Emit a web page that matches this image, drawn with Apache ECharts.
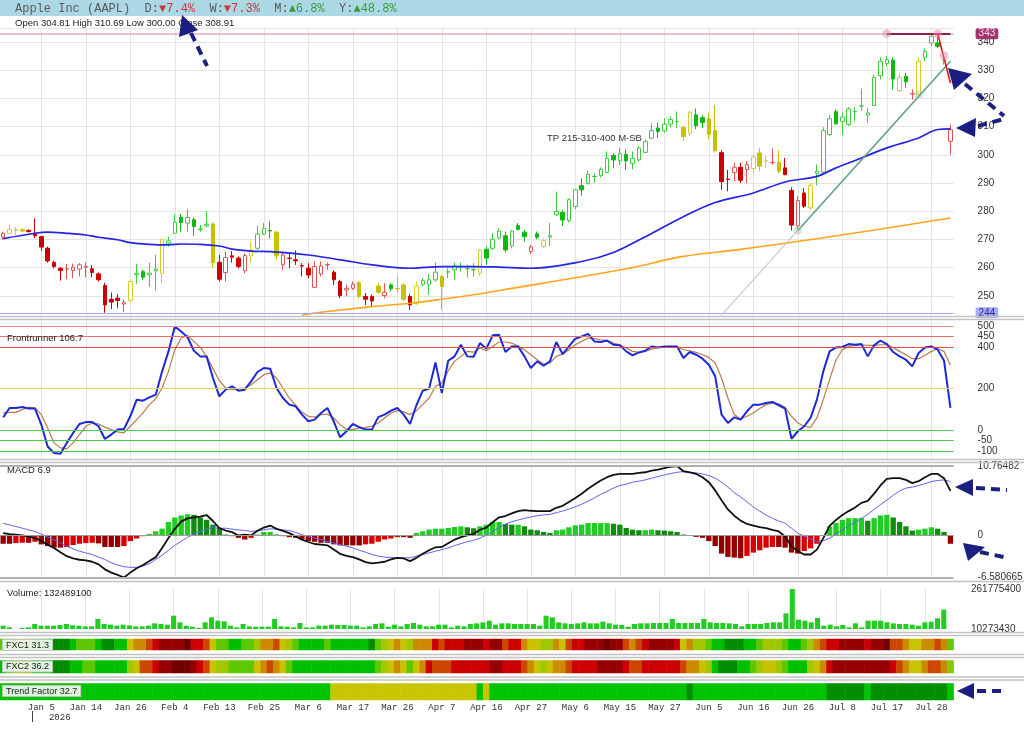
<!DOCTYPE html>
<html><head><meta charset="utf-8">
<script src="https://cdn.jsdelivr.net/npm/echarts@6/dist/echarts.min.js"></script>
<style>html,body{margin:0;padding:0;background:#fff}#c{width:1024px;height:735px}</style>
</head><body><div id="c"></div>
<script>
// ---------------- DATA ----------------
const dates = [
'2025-12-24','2025-12-26','2025-12-29','2025-12-30','2025-12-31','2026-01-02','2026-01-05','2026-01-06','2026-01-07','2026-01-08',
'2026-01-09','2026-01-12','2026-01-13','2026-01-14','2026-01-15','2026-01-16','2026-01-20','2026-01-21','2026-01-22','2026-01-23',
'2026-01-26','2026-01-27','2026-01-28','2026-01-29','2026-01-30','2026-02-02','2026-02-03','2026-02-04','2026-02-05','2026-02-06',
'2026-02-09','2026-02-10','2026-02-11','2026-02-12','2026-02-13','2026-02-17','2026-02-18','2026-02-19','2026-02-20','2026-02-23',
'2026-02-24','2026-02-25','2026-02-26','2026-02-27','2026-03-02','2026-03-03','2026-03-04','2026-03-05','2026-03-06','2026-03-09',
'2026-03-10','2026-03-11','2026-03-12','2026-03-13','2026-03-16','2026-03-17','2026-03-18','2026-03-19','2026-03-20','2026-03-23',
'2026-03-24','2026-03-25','2026-03-26','2026-03-27','2026-03-30','2026-03-31','2026-04-01','2026-04-02','2026-04-06','2026-04-07',
'2026-04-08','2026-04-09','2026-04-10','2026-04-13','2026-04-14','2026-04-15','2026-04-16','2026-04-17','2026-04-20','2026-04-21',
'2026-04-22','2026-04-23','2026-04-24','2026-04-27','2026-04-28','2026-04-29','2026-04-30','2026-05-01','2026-05-04','2026-05-05',
'2026-05-06','2026-05-07','2026-05-08','2026-05-11','2026-05-12','2026-05-13','2026-05-14','2026-05-15','2026-05-18','2026-05-19',
'2026-05-20','2026-05-21','2026-05-22','2026-05-26','2026-05-27','2026-05-28','2026-05-29','2026-06-01','2026-06-02','2026-06-03',
'2026-06-04','2026-06-05','2026-06-08','2026-06-09','2026-06-10','2026-06-11','2026-06-12','2026-06-15','2026-06-16','2026-06-17',
'2026-06-18','2026-06-22','2026-06-23','2026-06-24','2026-06-25','2026-06-26','2026-06-29','2026-06-30','2026-07-01','2026-07-02',
'2026-07-06','2026-07-07','2026-07-08','2026-07-09','2026-07-10','2026-07-13','2026-07-14','2026-07-15','2026-07-16','2026-07-17',
'2026-07-20','2026-07-21','2026-07-22','2026-07-23','2026-07-24','2026-07-27','2026-07-28','2026-07-29','2026-07-30','2026-07-31'];

const tickDates = ['2026-01-05','2026-01-14','2026-01-26','2026-02-04','2026-02-13','2026-02-25','2026-03-06','2026-03-17','2026-03-26',
'2026-04-07','2026-04-16','2026-04-27','2026-05-06','2026-05-15','2026-05-27','2026-06-05','2026-06-16','2026-06-26','2026-07-08','2026-07-17','2026-07-28'];

const open = [
270.8,272.2,273.2,273.4,273.2,272.2,271.0,266.9,261.9,259.8,
259.5,259.0,259.5,260.2,259.6,257.8,253.7,248.8,249.2,247.1,
248.4,257.5,258.6,257.5,258.9,258.0,268.7,272.2,277.9,275.8,
277.0,273.5,274.8,275.5,261.9,258.3,264.2,263.4,258.9,264.2,
266.9,272.0,273.2,272.6,261.0,263.4,262.8,260.7,259.8,253.0,
257.8,261.0,258.4,255.1,252.1,252.7,254.7,249.8,249.8,253.5,
250.1,253.9,252.6,253.9,249.8,247.4,254.1,254.1,255.7,256.9,
258.4,259.2,260.4,259.6,259.2,258.0,266.5,266.9,270.5,271.3,
267.7,274.9,272.6,265.7,272.0,267.5,270.8,278.7,279.6,276.7,
281.7,289.1,289.9,292.3,292.6,293.8,299.8,297.9,300.2,297.0,
298.2,300.9,305.9,309.5,308.5,310.9,311.8,309.7,307.7,314.2,
313.2,312.8,308.6,300.8,291.4,293.8,295.6,294.8,295.2,300.7,
297.8,297.2,297.4,295.4,287.4,274.9,286.5,281.2,293.4,293.9,
307.2,315.3,311.9,310.8,315.3,317.3,314.1,317.5,328.1,332.4,
333.6,322.8,327.9,321.6,321.4,334.6,339.7,339.7,333.5,304.81];
const close = [
272.2,273.6,273.4,273.0,272.8,271.3,267.3,262.4,260.4,259.0,
259.6,260.2,261.0,260.4,258.3,255.7,246.8,247.8,248.4,247.7,
255.1,258.0,256.6,258.1,259.5,269.9,269.5,276.1,276.0,277.8,
274.6,273.7,275.4,261.8,255.9,263.6,263.7,260.4,264.3,266.3,
271.9,274.0,273.0,264.2,264.5,263.3,262.4,260.6,257.4,260.4,
260.6,261.1,255.7,250.1,252.7,254.1,249.8,248.8,248.2,251.3,
251.3,252.5,252.5,248.8,246.8,253.5,255.4,255.7,258.4,253.3,
258.6,260.6,260.5,259.7,259.4,266.3,263.4,270.1,273.0,266.3,
273.0,273.6,271.0,267.3,270.8,269.6,271.3,279.9,276.9,284.1,
287.6,287.6,293.1,292.4,294.9,298.8,298.2,300.4,297.9,298.8,
302.4,304.7,308.6,308.3,310.9,312.6,311.9,306.5,315.1,310.4,
311.5,307.3,301.5,290.5,291.3,295.6,291.0,296.6,299.2,296.0,
297.9,297.3,294.2,293.0,275.1,283.8,281.8,289.2,294.2,308.6,
312.8,311.0,313.4,316.3,315.4,317.4,314.9,327.5,333.2,333.8,
326.9,327.5,325.9,321.7,333.2,336.7,342.1,338.5,333.6,308.91];
const low = [
269.9,271.9,271.6,272.6,272.5,270.5,265.9,261.8,259.8,255.4,
255.9,256.3,256.9,256.6,256.6,255.1,244.0,245.3,245.6,244.2,
247.6,254.3,255.7,253.3,251.9,254.5,267.5,272.0,272.8,272.8,
271.3,272.8,274.3,259.8,255.1,255.1,261.8,259.8,258.0,261.8,
266.3,271.6,270.4,262.8,259.0,259.8,261.0,256.9,256.3,252.7,
256.9,259.2,253.9,249.2,249.8,252.1,249.2,246.8,246.2,250.7,
249.2,251.5,251.0,248.0,245.0,246.8,253.3,250.4,255.1,245.0,
256.3,255.7,258.6,256.6,256.9,257.1,261.0,266.3,270.1,265.4,
266.9,273.2,269.3,264.9,270.1,266.9,267.7,278.4,274.8,276.0,
280.7,285.5,289.4,290.2,292.0,293.5,295.3,296.5,294.6,294.9,
297.6,300.6,305.6,305.9,307.9,309.8,309.5,305.1,306.7,309.1,
309.5,305.5,300.9,287.6,287.1,290.7,290.1,290.1,293.6,294.2,
295.4,296.6,293.4,292.8,273.2,273.5,281.2,280.6,289.2,293.0,
306.6,310.8,307.2,310.2,311.9,315.7,311.3,317.3,326.7,331.4,
323.2,322.3,323.8,319.6,320.2,333.2,338.5,337.9,332.0,300.00];
const high = [
272.8,275.2,274.4,274.0,273.6,277.5,271.3,267.5,262.5,260.2,
261.4,261.4,261.6,261.8,261.0,258.3,254.7,251.2,250.6,248.6,
255.9,261.4,259.2,261.8,264.5,270.5,271.0,279.0,279.1,280.7,
277.8,275.2,280.1,276.0,264.5,265.7,265.9,264.0,265.1,269.3,
274.8,275.8,276.4,273.0,265.7,265.1,266.1,261.6,261.6,262.2,
262.2,261.8,259.0,255.7,253.9,255.1,255.3,251.0,250.4,254.5,
254.5,254.5,256.8,254.5,250.7,255.1,256.3,257.8,261.8,257.4,
259.8,261.8,261.8,261.0,261.6,266.5,267.5,272.2,274.0,272.8,
273.4,275.8,273.4,268.1,272.8,270.4,275.8,287.0,280.5,284.6,
287.8,291.7,294.4,293.5,295.6,301.2,300.6,302.4,302.0,301.2,
303.2,305.5,311.2,311.5,313.0,313.8,315.4,310.3,315.7,316.5,
314.2,315.0,317.7,301.8,294.7,297.2,297.2,297.8,300.1,302.3,
299.5,302.3,301.5,298.9,288.5,285.3,288.3,290.1,296.6,309.8,
314.1,316.1,314.9,316.9,316.9,323.5,316.6,328.5,334.6,335.0,
334.6,329.1,329.1,323.2,334.6,337.9,342.8,343.0,334.5,310.69];
// candle tone per bar: g = green, y = yellow, r = red
const tone = ('ryyyrrrrrr'+'rrrrrrrrrr'+'yggggygggg'+'gggyrrrrry'+'gggyrrrrrr'+
              'rrrrrryrry'+'rgyyrygggy'+'gggggygggg'+'gggrgygggg'+'gggggggggg'+
              'gggggggyyg'+'gyyrrrrryy'+'yryrrrrygg'+'gggggggggg'+'gygryggggr').split('');

// moving averages, read at sample bars: [bar index, value]
const ma50 = [[0,270.3],[5,272.2],[7,272.6],[10,272.2],[13,271.6],[15,270.8],[18,269.9],[20,268.9],[23,268.3],[26,268.1],
  [28,268.4],[31,268.3],[34,267.7],[36,266.6],[39,265.9],[42,265.7],[48,264.5],[53,262.8],[58,261.0],[64,259.8],
  [69,260.4],[74,260.4],[78,260.2],[83,259.8],[91,262.2],[96,265.4],[101,271.0],[107,278.1],[112,283.1],[118,286.5],
  [123,290.4],[128,292.4],[131,295.4],[135,298.9],[139,302.5],[144,306.0],[147,309.0],[149,309.2]];
const ma200 = [[47,243.2],[50,244.2],[58,246.2],[64,247.4],[69,248.8],[74,250.4],[78,251.9],[98,259.6],[107,264.0],
  [116,266.5],[129,270.6],[149,277.6]];

const frontrunner = [
61,106,106,111,103,103,26,-79,-111,-114,
-62,-14,29,38,38,18,-43,-22,2,5,
66,146,141,157,170,282,378,498,474,446,
381,354,354,250,162,194,210,189,194,234,
279,298,295,202,154,122,114,74,42,50,
82,106,42,-35,-6,29,14,2,2,62,
74,93,106,74,29,119,189,199,325,178,
333,354,410,354,352,418,391,455,458,375,
402,402,354,298,330,309,330,423,365,402,
439,450,462,426,423,430,410,407,378,359,
373,381,402,397,402,402,402,346,375,362,
343,314,258,74,34,61,50,90,122,122,
130,135,119,103,-42,-6,18,58,146,282,
378,397,399,413,410,413,354,407,430,413,
375,354,338,306,370,397,402,386,333,106.7];
const frontSignal = [
82,85,85,98,109,106,74,10,-62,-86,
-91,-62,-22,18,34,29,14,2,-9,-14,
18,50,82,122,151,202,282,386,442,455,
426,397,354,295,237,202,194,199,202,218,
242,266,274,250,202,154,119,85,66,62,
74,77,58,26,2,2,10,13,18,34,
58,82,93,87,74,93,122,154,210,226,
285,330,354,378,374,394,381,402,423,423,
418,402,386,362,338,317,322,354,365,386,
410,426,442,439,434,430,418,410,394,378,
373,378,389,397,400,402,399,386,381,373,
362,349,322,250,154,74,53,66,82,103,
122,130,125,109,66,34,18,13,58,146,
242,338,386,402,407,410,407,407,410,410,
397,378,362,343,343,359,378,391,378,311];
const frontLevels = [500,450,400,200,0,-50,-100];

const macd = [
0.32,0.17,0.07,-0.04,-0.19,-0.45,-0.86,-1.47,-1.98,-2.65,
-3.26,-3.62,-3.82,-3.92,-4.13,-4.54,-5.31,-5.82,-6.17,-6.58,
-5.82,-5.15,-4.64,-4.03,-3.41,-1.98,-0.45,0.99,2.11,2.62,
2.78,2.88,3.14,2.21,1.09,0.73,0.48,-0.04,0.07,-0.04,
0.68,1.19,1.50,0.99,0.68,0.32,-0.19,-0.70,-1.06,-1.37,
-1.47,-1.57,-2.24,-2.90,-3.21,-3.41,-3.77,-4.18,-4.38,-4.28,
-4.13,-3.77,-3.52,-3.62,-4.03,-3.52,-2.90,-2.34,-1.88,-1.83,
-1.26,-0.70,-0.29,-0.04,0.2,0.85,1.19,2.01,2.78,2.98,
3.39,3.75,3.90,3.80,3.75,3.75,3.75,4.26,4.57,5.18,
5.80,6.46,7.23,7.89,8.51,9.02,9.38,9.53,9.53,9.53,
9.68,9.79,10.04,10.2,10.45,10.65,10.76,9.95,9.79,9.53,
9.02,8.25,6.97,5.44,4.01,3.03,2.27,1.75,1.50,1.24,
1.09,0.83,0.58,-0.19,-1.72,-2.49,-3.00,-3.00,-2.24,-0.45,
1.45,2.37,3.14,3.75,4.31,5.03,5.34,6.46,7.74,8.76,
8.87,8.87,8.61,8.10,8.40,9.02,9.53,9.53,8.87,6.9];
const macdSignal = [
1.86,1.60,1.35,1.09,0.83,0.58,0.17,-0.29,-0.70,-1.21,
-1.72,-2.13,-2.49,-2.75,-3.00,-3.41,-3.77,-4.28,-4.64,-4.90,
-5.00,-5.00,-4.79,-4.44,-3.77,-3.11,-2.34,-1.57,-0.96,-0.34,
0.17,0.58,0.99,1.19,1.09,1.09,0.94,0.83,0.73,0.58,
0.68,0.83,0.99,0.94,0.83,0.73,0.42,0.07,-0.19,-0.45,
-0.70,-0.96,-1.21,-1.47,-1.72,-1.98,-2.34,-2.65,-3.00,-3.26,
-3.41,-3.47,-3.52,-3.52,-3.52,-3.26,-3.00,-2.75,-2.49,-2.24,
-1.98,-1.62,-1.32,-1.0,-0.8,-0.45,0.0,0.6,1.2,1.7,
2.1,2.37,2.62,2.83,3.03,3.14,3.24,3.50,3.75,4.06,
4.41,4.82,5.29,5.80,6.36,6.82,7.33,7.74,7.94,8.25,
8.40,8.61,8.87,9.12,9.38,9.58,9.79,9.89,9.79,9.68,
9.53,9.28,8.87,8.25,7.48,6.61,5.95,5.18,4.41,3.75,
3.14,2.62,2.21,1.86,1.09,0.32,-0.19,-0.60,-0.96,-0.86,
-0.45,0.17,0.83,1.50,2.01,2.62,3.24,4.01,4.77,5.44,
6.21,6.87,7.33,7.48,7.74,8.00,8.35,8.51,8.61,8.35];
const macdHist = [
-1.33,-1.33,-1.23,-1.18,-1.18,-1.02,-1.43,-1.69,-1.94,-1.94,
-1.84,-1.53,-1.33,-1.23,-1.18,-1.28,-1.84,-1.84,-1.84,-1.69,
-0.92,-0.51,-0.15,0.2,0.61,1.02,2.05,2.76,3.07,3.27,
3.17,2.76,2.40,1.64,1.13,0.1,-0.15,-0.41,-0.67,-0.41,
0.1,0.51,0.51,0.1,-0.15,-0.31,-0.41,-0.67,-0.92,-1.02,
-1.18,-1.18,-1.43,-1.59,-1.59,-1.59,-1.59,-1.43,-1.33,-1.02,
-0.67,-0.51,-0.31,-0.31,-0.41,0.36,0.61,0.87,1.02,1.02,
1.13,1.28,1.38,1.23,1.08,1.38,1.64,2.05,2.05,1.74,
1.64,1.64,1.38,0.87,0.77,0.51,0.36,0.77,0.87,1.23,
1.53,1.64,1.89,1.89,1.89,1.89,1.79,1.64,1.13,0.87,
0.77,0.77,0.87,0.77,0.72,0.61,0.51,0.1,0.03,-0.26,
-0.41,-0.92,-1.69,-2.86,-3.38,-3.48,-3.58,-3.22,-2.71,-2.35,
-1.94,-1.84,-1.84,-1.94,-2.71,-2.86,-2.46,-2.05,-1.33,0.05,
1.38,1.89,2.40,2.66,2.66,2.66,2.25,2.66,3.07,3.17,
2.76,2.05,1.38,0.72,0.87,1.02,1.23,1.02,0.51,-1.33];
const macdRange = [-6.580665, 10.76482];

// volume in millions of shares
const volumeM = [
31.2,20.8,10.2734,16.6,20.8,41.7,31.2,31.2,31.2,35.4,
41.7,33.3,31.2,27.0,27.0,73.2,41.7,37.5,31.2,37.5,
33.3,27.0,27.0,31.2,45.9,41.7,37.5,94.1,52.2,31.2,
24.9,16.6,52.2,83.6,62.7,58.5,31.2,20.8,41.7,27.0,
24.9,24.9,24.9,73.2,27.0,24.9,20.8,48.0,20.8,20.8,
31.2,31.2,37.5,35.4,35.4,31.2,31.2,20.8,27.0,41.7,
45.9,24.9,37.5,27.0,41.7,48.0,37.5,27.0,27.0,37.5,
37.5,20.8,31.2,27.0,41.7,45.9,52.2,62.7,37.5,45.9,
45.9,41.7,41.7,41.7,41.7,31.2,94.1,83.6,52.2,45.9,
41.7,45.9,52.2,45.9,45.9,56.4,45.9,37.5,35.4,24.9,
41.7,45.9,45.9,48.0,48.0,48.0,73.2,48.0,48.0,48.0,
48.0,73.2,52.2,48.0,48.0,45.9,41.7,27.0,41.7,41.7,
41.7,48.0,52.2,52.2,108.8,261.7754,68.9,62.7,52.2,79.4,
31.2,37.5,27.0,35.4,20.8,45.9,20.8,62.7,62.7,62.7,
52.2,45.9,41.7,41.7,37.5,31.2,52.2,56.4,77.3,132.4891];
const volumeRange = [10273430, 261775400];

// FXC1 / FXC2 heat values (0-100)
const fxc1 = [
30,40,40,50,40,30,20,20,10,10, 10,20,30,30,30,20,10,10,20,20,
50,60,60,70,80,90,90,90,90,100, 80,80,70,50,30,30,20,20,30,30,
40,60,60,70,50,40,30,20,20,20, 20,30,20,20,20,20,20,20,10,30,
40,50,60,50,40,60,60,60,80,70, 80,80,80,90,90,90,80,90,90,70,
80,80,60,50,50,40,40,60,50,70, 80,80,90,90,90,100,90,90,70,60,
70,80,90,90,90,90,80,50,60,40, 40,30,20,20,10,10,10,20,20,30,
40,40,40,30,20,20,30,40,60,70, 80,80,90,90,90,90,80,90,90,100,
70,70,60,50,50,60,60,70,60,31.3];
const fxc2 = [
20,30,40,40,40,20,20,20,10,10, 10,20,20,30,30,20,20,20,20,20,
40,50,70,70,80,90,90,100,100,100, 90,80,70,50,40,40,30,30,30,30,
50,60,70,60,50,30,20,20,20,20, 20,20,20,20,20,20,20,20,20,30,
40,50,60,50,30,50,60,80,70,70, 70,80,80,80,80,80,80,90,90,80,
80,80,70,60,50,40,50,60,60,70, 80,80,80,80,90,90,90,90,80,70,
70,80,80,80,80,80,80,70,60,60, 50,40,20,10,10,10,20,20,30,40,
50,50,40,30,20,20,20,40,50,60, 80,90,90,90,90,90,90,90,90,90,
80,70,60,50,50,60,70,70,60,36.2];
// Trend Factor (estimated level per bar)
const trendFactor = [];
[[0,51,30],[52,74,10],[75,75,30],[76,76,10],[77,107,30],[108,108,50],[109,129,30],[130,135,50],[136,136,30],[137,148,50]]
  .forEach(([a,b,v]) => { for (let i=a;i<=b;i++) trendFactor[i]=v; });
trendFactor[149] = 32.7;

const headerChanges = [['D','▼','7.4%'],['W','▼','7.3%'],['M','▲','6.8%'],['Y','▲','48.8%']];
const priceMin = 244.0, priceMax = 343.0;

// ---------------- CHART ----------------
const N = dates.length;
const last = N - 1;
const FONT = 'Liberation Sans, Arial, sans-serif';
const MONO = 'Liberation Mono, DejaVu Sans Mono, monospace';
const tickSet = new Set(tickDates);
const tickFn = (idx, val) => tickSet.has(val);
const MON = ['Jan','Feb','Mar','Apr','May','Jun','Jul','Aug','Sep','Oct','Nov','Dec'];
const yearIdx = dates.findIndex(d => d.startsWith('2026'));

const tones = {
  g: {fill:'#12b812', hollow:'#3fcc3f'},
  y: {fill:'#c6c200', hollow:'#d2ce2c'},
  r: {fill:'#cc0000', hollow:'#e05656'}
};
const candleData = dates.map((d,i) => {
  const t = tones[tone[i]];
  const up = close[i] > open[i];
  return {value:[open[i], close[i], low[i], high[i]],
    itemStyle:{color: up ? '#ffffff' : t.fill, color0: t.fill,
      borderColor: up ? t.hollow : t.fill, borderColor0: t.fill, borderWidth:1}};
});
const histData = macdHist.map((v,i) => {
  const p = i > 0 ? macdHist[i-1] : v;
  let c;
  if (v >= 0) c = v >= p ? '#22cc22' : '#118c11';
  else c = v <= p ? '#960000' : '#d80000';
  return {value:v, itemStyle:{color:c}};
});

const gridRows = [[28,287.9],[318,141],[466,111.5],[589,40],[639,11],[660.5,12.5],[683.5,16.5]];
const grid = gridRows.map(([t,h]) => ({left:0, right:70.4, top:t, height:h}));

const xAxis = gridRows.map((g,i) => ({
  type:'category', gridIndex:i, data:dates, boundaryGap:true,
  axisLine:{show:false}, axisTick:{show:false},
  axisLabel: i === 6 ? {show:true, interval:tickFn, margin:3, color:'#333', fontFamily:MONO, fontSize:9,
      formatter: v => { const p = v.split('-'); return MON[+p[1]-1] + ' ' + (+p[2]); }} : {show:false},
  splitLine:{show: i <= 3, interval:tickFn, alignWithLabel:true, lineStyle:{color:'#e4e4e4', width:1}}
}));
xAxis.push({type:'category', gridIndex:6, data:dates, boundaryGap:true, position:'bottom', offset:11,
  axisLine:{show:false}, axisTick:{show:false},
  axisLabel:{show:true, interval:(i)=> i===yearIdx, formatter:(v)=> v.slice(0,4), align:'left', padding:[0,0,0,14],
    margin:2, color:'#333', fontFamily:MONO, fontSize:9},
  splitLine:{show:false}});

const lblStyle = {color:'#333', fontSize:10, fontFamily:FONT};
const yAxis = [
  {type:'value', gridIndex:0, position:'right', min:242.9, max:345, splitNumber:10,
   axisLine:{show:false}, axisTick:{show:false},
   axisLabel:Object.assign({margin:24, formatter:v => (Math.abs(v/10 - Math.round(v/10)) < 1e-6 ? String(v) : '')}, lblStyle),
   splitLine:{show:true, lineStyle:{color:'#e4e4e4'}}},
  {type:'value', gridIndex:1, position:'right', min:-139.4, max:538.5, axisLine:{show:false}, axisTick:{show:false}, axisLabel:{show:false}, splitLine:{show:false}},
  {type:'value', gridIndex:2, position:'right', min:macdRange[0], max:macdRange[1], axisLine:{show:false}, axisTick:{show:false}, axisLabel:{show:false}, splitLine:{show:false}},
  {type:'value', gridIndex:3, position:'right', min:volumeRange[0], max:volumeRange[1], axisLine:{show:false}, axisTick:{show:false},
   axisLabel:Object.assign({margin:24, formatter:v => (v===volumeRange[0] || v===volumeRange[1]) ? String(v) : ''}, lblStyle), splitLine:{show:false}},
  {type:'category', gridIndex:4, data:['v'], show:false},
  {type:'category', gridIndex:5, data:['v'], show:false},
  {type:'category', gridIndex:6, data:['v'], show:false}
];

const tagLabel = (txt, bg, fg) => ({show:true, position:'end', distance:22, formatter:txt, backgroundColor:bg, color:fg,
  padding:[1,3,0,3], borderRadius:2, fontSize:10, fontFamily:FONT});
const noLbl = {show:false};
const levelColor = {500:'#ec8c8c', 450:'#e86e6e', 400:'#d84a4a', 200:'#e6d070', 0:'#4ccc4c', '-50':'#4ccc4c', '-100':'#4ccc4c'};

const series = [
  {type:'candlestick', xAxisIndex:0, yAxisIndex:0, data:candleData, barWidth:4, z:3,
   markLine:{silent:true, symbol:['none','none'], animation:false,
     data:[
       {yAxis:priceMax, lineStyle:{color:'#e8aac0', width:1.5, type:'solid'}, label:tagLabel(String(priceMax),'#a3346c','#f8dbe8')},
       {yAxis:priceMin, lineStyle:{color:'#a4a4f6', width:1.2, type:'solid'}, label:tagLabel(String(priceMin),'#a8acf2','#2c2c9a')},
       [{coord:[dates[139], priceMax], lineStyle:{color:'#8e1c4e', width:2, type:'solid'}, label:noLbl},{coord:[dates[last], priceMax]}],
       [{coord:[dates[113], 243.2], lineStyle:{color:'#cacaca', width:1.2, type:'solid'}, label:noLbl},{coord:[dates[125], 273.2]}],
       [{coord:[dates[125], 273.2], lineStyle:{color:'#5f9e88', width:1.6, type:'solid'}, label:noLbl},{coord:[dates[last], 333.2]}],
       [{coord:[dates[147], priceMax], lineStyle:{color:'#e01818', width:1.6, type:'solid'}, label:noLbl},{coord:[dates[last], 325.5]}]
     ]},
   markPoint:{silent:true, animation:false, data:[{coord:[dates[93], 306], symbolSize:0,
     label:{show:true, formatter:'TP 215-310-400 M-SB', color:'#333', fontSize:9.5, fontFamily:FONT}}]}},
  {type:'line', xAxisIndex:0, yAxisIndex:0, data:ma50, smooth:0.35, symbol:'none', lineStyle:{color:'#2424e4', width:1.7}, z:4},
  {type:'line', xAxisIndex:0, yAxisIndex:0, data:ma200, smooth:0.35, symbol:'none', lineStyle:{color:'#ffa51e', width:1.6}, z:4},
  {type:'scatter', xAxisIndex:0, yAxisIndex:0, symbolSize:9, z:5, itemStyle:{color:'rgba(222,140,170,0.6)'},
   data:[[139,priceMax],[147,priceMax],[148,335.2]]},
  {type:'scatter', xAxisIndex:0, yAxisIndex:0, symbolSize:8, z:5, itemStyle:{color:'rgba(150,190,170,0.5)'},
   data:[[125,273.2],[144,321.4]]},
  {type:'line', xAxisIndex:1, yAxisIndex:1, data:frontSignal, symbol:'none', lineStyle:{color:'#b87a4e', width:1.2}, z:3,
   markLine:{silent:true, symbol:['none','none'], animation:false,
     label:{show:true, position:'end', distance:24, color:'#333', fontSize:10, fontFamily:FONT, formatter:p => String(p.value)},
     data: frontLevels.map(v => ({yAxis:v, lineStyle:{color:levelColor[v], width:1.2, type:'solid'}}))}},
  {type:'line', xAxisIndex:1, yAxisIndex:1, data:frontrunner, symbol:'none', lineStyle:{color:'#1c2ad6', width:2}, z:4},
  {type:'bar', xAxisIndex:2, yAxisIndex:2, data:histData, barWidth:'84%', z:2,
   markLine:{silent:true, symbol:['none','none'], animation:false,
     label:{show:true, position:'end', distance:24, color:'#333', fontSize:10, fontFamily:FONT, formatter:'{b}'},
     data:[{name:String(macdRange[1]), yAxis:macdRange[1], lineStyle:{color:'#b0b0b0', width:2, type:'solid'}},
           {name:'0', yAxis:0, lineStyle:{color:'#9a9a9a', width:1, type:'solid'}},
           {name:String(macdRange[0]), yAxis:macdRange[0], lineStyle:{color:'#b0b0b0', width:2, type:'solid'}}]}},
  {type:'line', xAxisIndex:2, yAxisIndex:2, data:macdSignal, symbol:'none', lineStyle:{color:'#6262ee', width:1}, z:3},
  {type:'line', xAxisIndex:2, yAxisIndex:2, data:macd, symbol:'none', lineStyle:{color:'#111', width:1.8}, z:4},
  {type:'bar', xAxisIndex:3, yAxisIndex:3, data:volumeM.map(v => Math.round(v*1e6)), barWidth:'80%', itemStyle:{color:'#22cc22'}},
  {type:'heatmap', xAxisIndex:4, yAxisIndex:4, data:fxc1.map((v,i)=>[i,0,v]), itemStyle:{borderWidth:0}, emphasis:{disabled:true}},
  {type:'heatmap', xAxisIndex:5, yAxisIndex:5, data:fxc2.map((v,i)=>[i,0,v]), itemStyle:{borderWidth:0}, emphasis:{disabled:true}},
  {type:'heatmap', xAxisIndex:6, yAxisIndex:6, data:trendFactor.map((v,i)=>[i,0,v]), itemStyle:{borderWidth:0}, emphasis:{disabled:true}}
];
const hmStart = series.length - 3;

const visualMap = [
  {type:'continuous', seriesIndex:[hmStart, hmStart+1], min:0, max:100, show:false, dimension:2,
   inRange:{color:['#006e00','#008c00','#00bf00','#5cc800','#a0c800','#c8c200','#cc8a00','#cc4600','#cc0000','#960000','#700000']}},
  {type:'piecewise', seriesIndex:hmStart+2, show:false, dimension:2,
   pieces:[{lt:20, color:'#c8c600'},{gte:20, lt:40, color:'#00c400'},{gte:40, color:'#008f00'}]}
];

const chart = echarts.init(document.getElementById('c'), null, {renderer:'canvas'});
chart.setOption({animation:false, backgroundColor:'#ffffff', grid, xAxis, yAxis, series, visualMap,
  textStyle:{fontFamily:FONT}});

// ---------------- overlays ----------------
const navy = '#1a1f80';
const dashed = (x1,y1,x2,y2) => ({type:'line', z:100, shape:{x1,y1,x2,y2}, style:{stroke:navy, lineWidth:4, lineDash:[9,6]}});
const head = pts => ({type:'polygon', z:100, shape:{points:pts}, style:{fill:navy}});
const sepY = [316.5,319.5,459.5,462.5,581.5,632.5,635.5,654.5,657.5,677,680];
const txt = (x,y,t,extra) => ({type:'text', z:50, style:Object.assign({x, y, text:t, fill:'#222', font:'9.5px ' + FONT, verticalAlign:'middle'}, extra||{})});
const boxLabel = (x,y,t) => txt(x,y,t,{font:'9px ' + FONT, fill:'#222', backgroundColor:'rgba(236,246,236,0.92)',
  borderColor:'#b8c8b8', borderWidth:1, padding:[1,3,0,3], verticalAlign:'top'});

let headerText = '{n|Apple Inc (AAPL)}';
const rich = {n:{fill:'#5a5a5a', font:'12px ' + MONO}, l:{fill:'#5a5a5a', font:'12px ' + MONO},
  dn:{fill:'#c83a3a', font:'12px ' + MONO}, up:{fill:'#3c9a3c', font:'12px ' + MONO}};
headerChanges.forEach(([k,a,v]) => { headerText += '{n|  }{l|' + k + ':}{' + (a==='▼'?'dn':'up') + '|' + a + v + '}'; });

// year boundary tick under the date axis (edge of the first 2026 bar)
const px = i => chart.convertToPixel({xAxisIndex:6}, dates[i]);
const band = px(1) - px(0);
const yearX = Math.round(px(yearIdx) - band/2) + 0.5;

const graphic = [
  {type:'rect', z:40, shape:{x:0, y:0, width:1024, height:16}, style:{fill:'#acd8e6'}},
  {type:'text', z:41, style:{x:15, y:8.5, text:headerText, rich, verticalAlign:'middle'}},
  txt(15, 23, 'Open ' + open[last].toFixed(2) + ' High ' + high[last].toFixed(2) + ' Low ' + low[last].toFixed(2) + ' Close ' + close[last].toFixed(2)),
  txt(7, 338.5, 'Frontrunner ' + frontrunner[last]),
  txt(7, 470.5, 'MACD ' + macd[last]),
  txt(7, 593.5, 'Volume: ' + Math.round(volumeM[last]*1e6)),
  boxLabel(3, 640, 'FXC1 ' + fxc1[last]),
  boxLabel(3, 661.5, 'FXC2 ' + fxc2[last]),
  boxLabel(3, 686, 'Trend Factor ' + trendFactor[last]),
  {type:'line', z:50, shape:{x1:yearX, y1:711, x2:yearX, y2:722}, style:{stroke:'#444', lineWidth:1}},
  ...sepY.map(y => ({type:'line', z:45, shape:{x1:0, y1:y, x2:1024, y2:y}, style:{stroke:'#c2c2c2', lineWidth:1.5}})),
  head([[182,15],[179,37],[198,30]]), dashed(191,33,207,66),
  head([[948,68],[954,90],[972,74]]), dashed(965,84,1004,116),
  head([[956,128],[976,118],[975,137]]), dashed(978,126,1004,119),
  head([[955,487],[973,479],[973,496]]), dashed(976,488,1007,490),
  head([[963,543],[968,561],[985,547]]), dashed(980,552,1008,558),
  head([[957,691],[974,683],[974,699]]), dashed(977,691,1005,691)
];
chart.setOption({graphic});
</script>
</body></html>
